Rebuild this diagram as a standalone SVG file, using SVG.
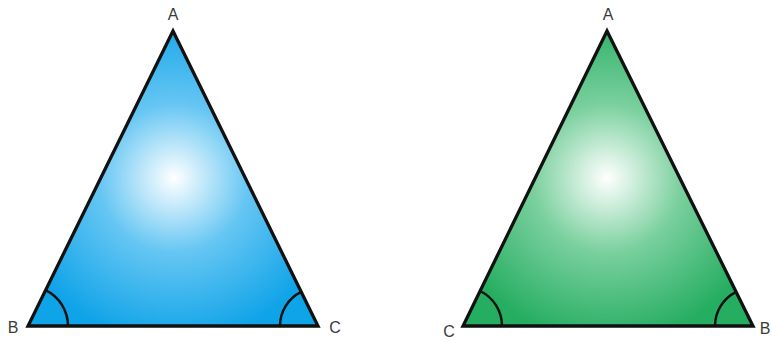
<svg xmlns="http://www.w3.org/2000/svg" width="772" height="343" viewBox="0 0 772 343">
<defs>
<radialGradient id="gBlue" gradientUnits="userSpaceOnUse" cx="174" cy="178" r="165">
<stop offset="0" stop-color="#ffffff"/>
<stop offset="0.45" stop-color="#66c6f3"/>
<stop offset="1" stop-color="#0fa3e8"/>
</radialGradient>
<radialGradient id="gGreen" gradientUnits="userSpaceOnUse" cx="607" cy="178" r="165">
<stop offset="0" stop-color="#ffffff"/>
<stop offset="0.45" stop-color="#7ad09e"/>
<stop offset="1" stop-color="#25ad61"/>
</radialGradient>
<style>
.tri{stroke:#111;stroke-width:3.3;stroke-linejoin:miter}
.arc{fill:none;stroke:#111;stroke-width:2.5}
.lbl{font-family:"Liberation Sans",Arial,sans-serif;font-size:16px;fill:#3a3a3a}
</style>
</defs>
<g id="triangle1">
<polygon class="tri" points="173,31 28,326 318,326" fill="url(#gBlue)"/>
<path class="arc" d="M68,326 A40,40 0 0 0 45.6,290.1"/>
<path class="arc" d="M280,326 A38,38 0 0 1 301.3,291.9"/>
<text class="lbl" x="173" y="20" text-anchor="middle">A</text>
<text class="lbl" x="13" y="333" text-anchor="middle">B</text>
<text class="lbl" x="335" y="333" text-anchor="middle">C</text>
</g>
<g id="triangle2">
<polygon class="tri" points="607,31 463,326 753,326" fill="url(#gGreen)"/>
<path class="arc" d="M502,326 A39,39 0 0 0 480.1,291"/>
<path class="arc" d="M715,326 A38,38 0 0 1 736.3,291.9"/>
<text class="lbl" x="608" y="20" text-anchor="middle">A</text>
<text class="lbl" x="449" y="337" text-anchor="middle">C</text>
<text class="lbl" x="765" y="334" text-anchor="middle">B</text>
</g>
</svg>
